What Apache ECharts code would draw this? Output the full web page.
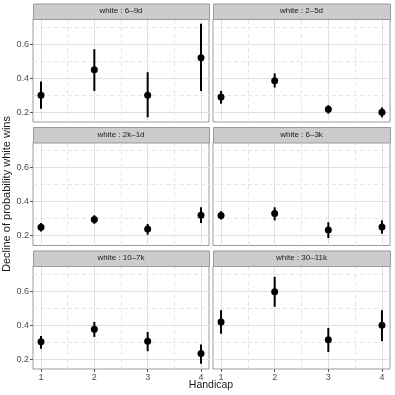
<!DOCTYPE html>
<html>
<head>
<meta charset="utf-8">
<script src="https://cdn.jsdelivr.net/npm/echarts@6/dist/echarts.min.js"></script>
<style>
html, body { margin: 0; padding: 0; background: #fff; }
#chart { width: 395px; height: 395px; }
</style>
</head>
<body>
<div id="chart"></div>
<script>
// data
var handicap = [1, 2, 3, 4];
var panels = ["white : 6\u20139d", "white : 2\u20135d", "white : 2k\u20131d", "white : 6\u20133k", "white : 10\u20137k", "white : 30\u201311k"];
var estimate = [
  [0.30, 0.45, 0.30, 0.52],
  [0.29, 0.385, 0.218, 0.20],
  [0.25, 0.295, 0.24, 0.32],
  [0.318, 0.33, 0.233, 0.251],
  [0.302, 0.376, 0.306, 0.233],
  [0.419, 0.596, 0.315, 0.40]
];
var lower = [
  [0.22, 0.325, 0.17, 0.325],
  [0.25, 0.345, 0.192, 0.17],
  [0.225, 0.27, 0.206, 0.275],
  [0.295, 0.29, 0.186, 0.212],
  [0.262, 0.331, 0.247, 0.174],
  [0.35, 0.508, 0.243, 0.306]
];
var upper = [
  [0.38, 0.57, 0.435, 0.72],
  [0.325, 0.428, 0.241, 0.228],
  [0.275, 0.32, 0.269, 0.367],
  [0.344, 0.367, 0.279, 0.29],
  [0.337, 0.419, 0.36, 0.286],
  [0.488, 0.684, 0.384, 0.488]
];
var yMajor = [0.2, 0.4, 0.6];
var yMinor = [0.3, 0.5, 0.7];
var xMinor = [1.5, 2.5, 3.5];

var colLeft = [33, 213];
var colWidth = [176, 177];
var rowTop = [19, 142.5, 266];
var plotH = 103;
var stripH = 15.5;

var grids = [], xAxes = [], yAxes = [], series = [], graphics = [];

for (var p = 0; p < 6; p++) {
  var c = p % 2, r = Math.floor(p / 2);
  grids.push({
    left: colLeft[c], top: rowTop[r], width: colWidth[c], height: plotH,
    show: true, borderColor: "#999", borderWidth: 1, backgroundColor: "#fff"
  });
  xAxes.push({
    gridIndex: p, type: "value", min: 0.85, max: 4.15,
    axisLine: { show: false },
    splitLine: { show: false },
    axisTick: { show: r === 2, length: 3, lineStyle: { color: "#555" }, customValues: handicap },
    axisLabel: { show: r === 2, customValues: handicap, fontSize: 9, color: "#4d4d4d", margin: 4, fontFamily: "Liberation Sans" }
  });
  yAxes.push({
    gridIndex: p, type: "value", min: 0.1425, max: 0.7475,
    axisLine: { show: false },
    splitLine: { show: false },
    axisTick: { show: c === 0, length: 3, lineStyle: { color: "#555" }, customValues: yMajor },
    axisLabel: { show: c === 0, customValues: yMajor, fontSize: 9, color: "#4d4d4d", margin: 4, fontFamily: "Liberation Sans",
      formatter: function (v) { return v.toFixed(1); } },
    name: (p === 2) ? "Decline of probability white wins" : "",
    nameLocation: "middle", nameGap: 19,
    nameTextStyle: { fontSize: 11, color: "#1a1a1a", fontFamily: "Liberation Sans" }
  });

  // grid lines through the axes
  var ml = [];
  yMajor.forEach(function (v) { ml.push({ yAxis: v, lineStyle: { color: "#e0e0e0", width: 1, type: "solid" } }); });
  yMinor.forEach(function (v) { ml.push({ yAxis: v, lineStyle: { color: "#e6e6e6", width: 1, type: [4, 3] } }); });
  handicap.forEach(function (v) { ml.push({ xAxis: v, lineStyle: { color: "#e0e0e0", width: 1, type: "solid" } }); });
  xMinor.forEach(function (v) { ml.push({ xAxis: v, lineStyle: { color: "#e6e6e6", width: 1, type: [4, 3] } }); });
  series.push({
    type: "line", xAxisIndex: p, yAxisIndex: p, data: [], z: 1, silent: true,
    markLine: { silent: true, symbol: "none", z: 1, animation: false, label: { show: false }, data: ml }
  });

  var barData = handicap.map(function (h, i) { return [h, lower[p][i], upper[p][i]]; });
  series.push({
    type: "custom", xAxisIndex: p, yAxisIndex: p, z: 8, data: barData,
    renderItem: function (params, api) {
      var a = api.coord([api.value(0), api.value(1)]);
      var b = api.coord([api.value(0), api.value(2)]);
      return { type: "line", shape: { x1: a[0], y1: a[1], x2: b[0], y2: b[1] }, style: { stroke: "#000", lineWidth: 2 } };
    }
  });
  series.push({
    type: "scatter", xAxisIndex: p, yAxisIndex: p, z: 10, symbolSize: 7,
    itemStyle: { color: "#000", opacity: 1 },
    data: handicap.map(function (h, i) { return [h, estimate[p][i]]; })
  });

  graphics.push({
    type: "rect", left: colLeft[c], top: rowTop[r] - stripH, z: 5,
    shape: { width: colWidth[c], height: stripH },
    style: { fill: "#cccccc", stroke: "#999", lineWidth: 1 }
  });
  graphics.push({
    type: "text", z: 6,
    x: colLeft[c] + colWidth[c] / 2, y: rowTop[r] - stripH / 2,
    style: { text: panels[p], fill: "#1a1a1a", fontSize: 8, fontFamily: "Liberation Sans", align: "center", verticalAlign: "middle" }
  });
}

graphics.push({
  type: "text", x: 211, y: 385,
  style: { text: "Handicap", fill: "#1a1a1a", fontSize: 10.5, fontFamily: "Liberation Sans", align: "center", verticalAlign: "middle" }
});

var myChart = echarts.init(document.getElementById("chart"));
myChart.setOption({
  animation: false,
  grid: grids,
  xAxis: xAxes,
  yAxis: yAxes,
  series: series,
  graphic: graphics
});
</script>
</body>
</html>
